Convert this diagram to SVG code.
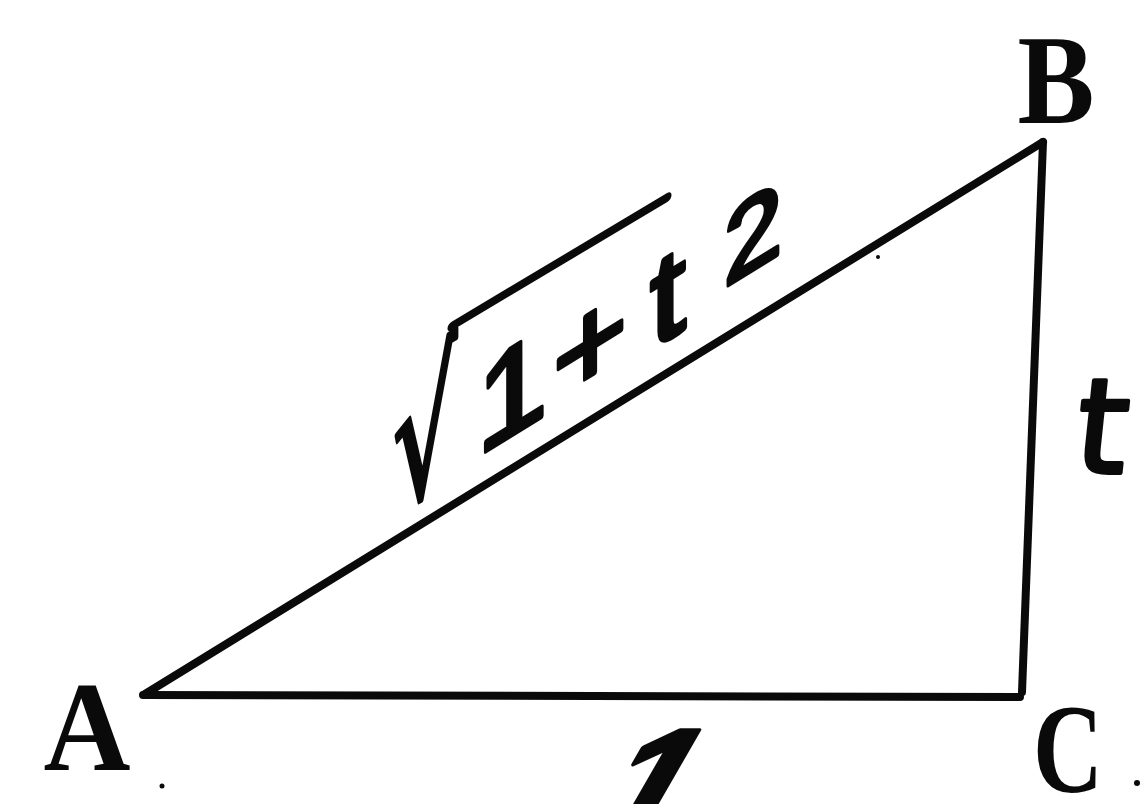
<svg xmlns="http://www.w3.org/2000/svg" width="1141" height="804" viewBox="0 0 1141 804">
<style>
.edge{stroke:#0a0a0a;stroke-width:8;stroke-linecap:round;fill:none}
.vlabel{font-family:"Liberation Serif","Times New Roman",serif;font-weight:bold;font-size:128px;fill:#0a0a0a}
.hand{font-family:"Liberation Sans",Arial,sans-serif;fill:#0a0a0a;stroke:#0a0a0a;stroke-width:5;stroke-linejoin:round}
.speck{fill:#0a0a0a}
</style>
<rect width="1141" height="804" fill="#fff"/>
<g id="connectors">
<line class="edge" x1="145" y1="694" x2="1043" y2="142"/>
<line class="edge" x1="143" y1="695" x2="1020" y2="697"/>
<line class="edge" x1="1043" y1="142" x2="1022" y2="692"/>
</g>
<g id="vertex-A"><text class="vlabel" x="87" y="770" font-size="136" text-anchor="middle" textLength="87" lengthAdjust="spacingAndGlyphs">A</text></g>
<g id="vertex-B"><text class="vlabel" x="1056" y="123" font-size="134" text-anchor="middle" textLength="77" lengthAdjust="spacingAndGlyphs">B</text></g>
<g id="vertex-C"><text class="vlabel" x="1068" y="792" font-size="150" text-anchor="middle" textLength="70" lengthAdjust="spacingAndGlyphs">C</text></g>
<g id="label-hyp" transform="translate(0,750) skewY(-31.6)">
<text class="hand" x="393" y="6" font-size="180" style="font-family:'DejaVu Sans',sans-serif" textLength="64" lengthAdjust="spacingAndGlyphs">√</text>
<line x1="452" y1="-146" x2="667" y2="-142" stroke="#0a0a0a" stroke-width="9" stroke-linecap="round"/>
<text class="hand" font-size="127" y="0" text-anchor="middle"><tspan x="512">1</tspan><tspan x="590">+</tspan><tspan x="668">t</tspan></text>
<text class="hand" font-size="105" x="753" y="-17" text-anchor="middle">2</text>
</g>
<g id="label-t" transform="translate(1098,473) skewX(-6)"><text x="0" y="0" text-anchor="middle" style="font-family:'DejaVu Sans',sans-serif" font-size="132" fill="#0a0a0a" stroke="#0a0a0a" stroke-width="4" stroke-linejoin="round">t</text></g>
<g id="label-1" transform="translate(625,834) skewX(-30)"><text class="hand" x="0" y="0" font-size="150" font-weight="bold" text-anchor="middle">1</text></g>
<g id="specks">
<circle class="speck" cx="1137" cy="783" r="3"/>
<circle class="speck" cx="162" cy="786" r="2.5"/>
<circle class="speck" cx="878" cy="257" r="2"/>
</g>
</svg>
